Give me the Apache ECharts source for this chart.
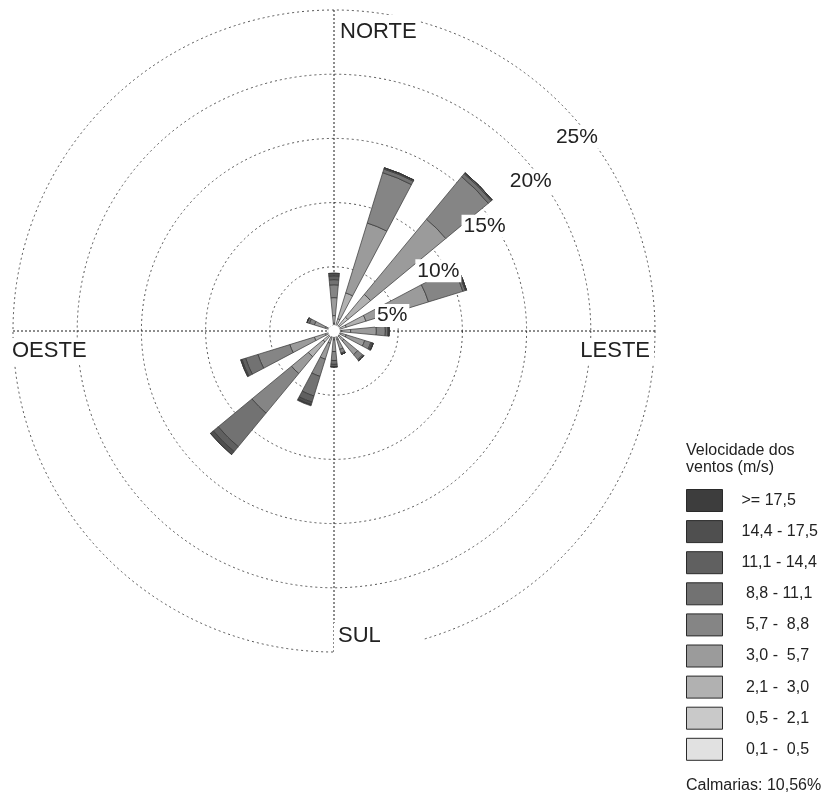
<!DOCTYPE html>
<html>
<head>
<meta charset="utf-8">
<script src="https://cdn.jsdelivr.net/npm/echarts@6/dist/echarts.min.js"></script>
<style>
  html, body { margin: 0; padding: 0; background: #fff; }
  #chart { width: 828px; height: 796px; }
</style>
</head>
<body>
<div id="chart"></div>
<script>
// Wind rose: frequency (%) of each speed class per direction, stacked outward.
const directions = ['N', 'NNE', 'NE', 'ENE', 'E', 'ESE', 'SE', 'SSE', 'S', 'SSW', 'SW', 'WSW', 'W', 'WNW', 'NW', 'NNW'];

// Speed classes (m/s), from the calmest to the strongest
const speedClasses = [' 0,1 -  0,5', ' 0,5 -  2,1', ' 2,1 -  3,0', ' 3,0 -  5,7', ' 5,7 -  8,8', ' 8,8 - 11,1', '11,1 - 14,4', '14,4 - 17,5', '>= 17,5'];
const classColors  = ['#e1e1e1', '#c9c9c9', '#b1b1b1', '#9b9b9b', '#858585', '#727272', '#606060', '#4f4f4f', '#3d3d3d'];

// Frequencies (%) per direction, N .. NNW
const freq01  = [0.1, 0.1, 0.1, 0.1, 0.1, 0.1, 0.1, 0.1, 0.1, 0.1, 0.1, 0.1, 0.05, 0.1, 0.05, 0.05];
const freq05  = [0.5, 0.9, 1.3, 0.9, 0.5, 0.4, 0.4, 0.3, 0.3, 0.4, 1.0, 0.6, 0.1, 0.3, 0.1, 0.1];
const freq21  = [0.6, 2.1, 2.3, 1.6, 0.7, 0.5, 0.5, 0.3, 0.3, 0.5, 1.5, 0.9, 0.1, 0.3, 0.1, 0.1];
const freq30  = [1.4, 5.7, 7.6, 5.1, 2.0, 1.5, 1.4, 0.8, 0.9, 1.3, 1.7, 2.0, 0.1, 0.9, 0.1, 0.1];
const freq57  = [1.0, 4.1, 4.3, 2.8, 0.7, 0.5, 0.5, 0.3, 0.7, 1.4, 4.0, 2.6, 0.05, 0.4, 0.05, 0.05];
const freq88  = [0.4, 0.3, 0.3, 0.2, 0.2, 0.1, 0.1, 0.1, 0.3, 1.6, 3.4, 1.0, 0, 0.2, 0, 0];
const freq111 = [0.3, 0.1, 0.1, 0.1, 0.1, 0.1, 0, 0, 0.2, 0.5, 0.5, 0.3, 0, 0, 0, 0];
const freq144 = [0.2, 0, 0, 0, 0, 0, 0, 0, 0, 0.2, 0.3, 0.1, 0, 0, 0, 0];
const freq175 = [0, 0, 0, 0, 0, 0, 0, 0, 0, 0.1, 0, 0, 0, 0, 0, 0];
const classFreqs = [freq01, freq05, freq21, freq30, freq57, freq88, freq111, freq144, freq175];

const calmPct = 10.56;
const radiusTicks = ['5%', '10%', '15%', '20%', '25%'];
const compassLabels = ['NORTE', 'LESTE', 'SUL', 'OESTE'];

const FONT = '"Liberation Sans", Arial, Helvetica, sans-serif';
const CENTER = [334, 331];
const RADIUS = 321;

// Placement of the cardinal labels, just inside the outer ring
const compassPlacement = [
  { left: 336, top: 15, padding: [6, 4, 2, 4] },
  { right: 174, top: 338, padding: [2, 4] },
  { left: 334, top: 623, padding: [2, 42, 6, 4] },
  { left: 8, top: 338, padding: [2, 4] }
];

const barSeries = speedClasses.map((name, i) => ({
  type: 'bar',
  name: name,
  coordinateSystem: 'polar',
  polarIndex: 0,
  stack: 'rose',
  barWidth: '48%',
  data: classFreqs[i],
  itemStyle: { color: classColors[i], borderColor: '#353535', borderWidth: 0.7 },
  emphasis: { disabled: true },
  z: 2
}));

const option = {
  backgroundColor: '#fff',
  animation: false,
  title: [
    {
      text: 'Velocidade dos\nventos (m/s)',
      left: 681, top: 437,
      textStyle: { fontFamily: FONT, fontSize: 16, fontWeight: 'normal', color: '#222', lineHeight: 17 }
    },
    {
      text: 'Calmarias: ' + calmPct.toFixed(2).replace('.', ',') + '%',
      left: 681, top: 773,
      textStyle: { fontFamily: FONT, fontSize: 16, fontWeight: 'normal', color: '#222' }
    }
  ].concat(compassLabels.map((label, i) => Object.assign({
    text: label,
    backgroundColor: '#fff',
    textStyle: { fontFamily: FONT, fontSize: 22, fontWeight: 'normal', color: '#222' }
  }, compassPlacement[i]))),
  legend: {
    orient: 'vertical',
    left: 681, top: 484,
    itemWidth: 36, itemHeight: 22, itemGap: 8.1,
    icon: 'rect',
    selectedMode: false,
    data: speedClasses.slice().reverse(),
    itemStyle: { borderColor: '#2a2a2a', borderWidth: 1 },
    textStyle: { fontFamily: FONT, fontSize: 16, color: '#222', padding: [0, 0, 0, 14] }
  },
  polar: [
    { center: CENTER, radius: RADIUS },
    { center: CENTER, radius: RADIUS },
    { center: [346, 360], radius: RADIUS }
  ],
  angleAxis: [
    { polarIndex: 0, type: 'category', data: directions, startAngle: 90 + 360 / 32, show: false },
    {
      polarIndex: 1, type: 'value', min: 0, max: 360, interval: 90, startAngle: 90,
      axisLine: { show: false }, axisTick: { show: false }, axisLabel: { show: false },
      splitLine: { show: true, lineStyle: { color: '#1a1a1a', width: 1, type: [2, 2] } }
    },
    { polarIndex: 2, type: 'value', min: 0, max: 360, startAngle: 44, show: false }
  ],
  radiusAxis: [
    {
      polarIndex: 0, type: 'value', min: 0, max: 25, interval: 5,
      axisLine: { show: false }, axisTick: { show: false }, axisLabel: { show: false },
      splitLine: { show: true, lineStyle: { color: '#555', width: 1, type: [2, 3] } }
    },
    { polarIndex: 1, type: 'value', min: 0, max: 25, show: false },
    {
      polarIndex: 2, type: 'value', min: 0, max: 25, interval: 5, z: 10,
      axisLine: { show: false }, axisTick: { show: false }, splitLine: { show: false },
      axisLabel: {
        margin: 0, align: 'center', verticalAlign: 'middle',
        showMinLabel: false, showMaxLabel: true,
        formatter: v => (v > 0 ? radiusTicks[v / 5 - 1] : ''),
        fontFamily: FONT, fontSize: 21, color: '#222',
        backgroundColor: '#fff', padding: [1, 2]
      }
    }
  ],
  series: barSeries.concat([{
    // calm hole at the centre of the rose
    type: 'pie',
    name: 'calm',
    center: CENTER,
    radius: [0, 6],
    silent: true,
    z: 5,
    label: { show: false },
    labelLine: { show: false },
    itemStyle: { color: '#fff' },
    data: [{ name: 'Calmarias', value: calmPct }]
  }])
};

const chart = echarts.init(document.getElementById('chart'), null, { renderer: 'canvas' });
chart.setOption(option);
</script>
</body>
</html>
